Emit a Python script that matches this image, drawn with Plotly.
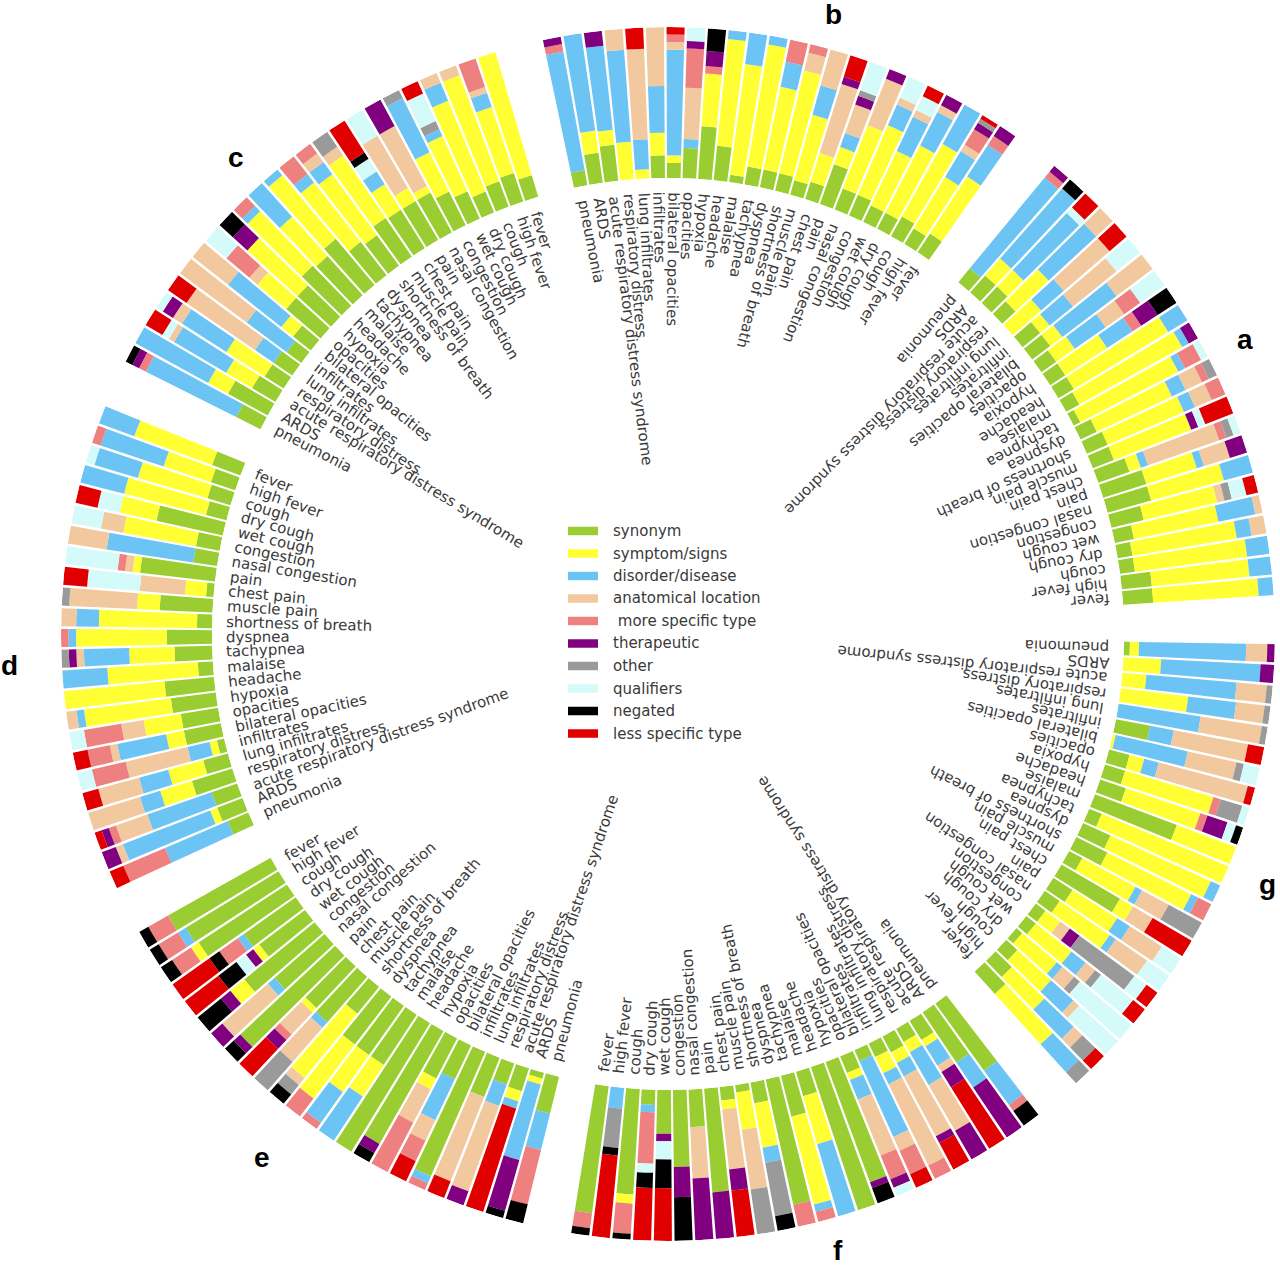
import math
import plotly.graph_objects as go

# ---------------- data ----------------
categories = ["synonym", "symptom/signs", "disorder/disease", "anatomical location",
              " more specific type", "therapeutic", "other", "qualifiers", "negated",
              "less specific type"]
colors = ["#9ACD32", "#FFFF33", "#6CC4F5", "#F2C89E", "#EE8080",
          "#800080", "#9A9A9A", "#D4FAFA", "#000000", "#E00000"]

terms = ["fever", "high fever", "cough", "dry cough", "wet cough", "congestion",
         "nasal congestion", "pain", "chest pain", "muscle pain", "shortness of breath",
         "dyspnea", "tachypnea", "malaise", "headache", "hypoxia", "opacities",
         "bilateral opacities", "infiltrates", "lung infiltrates", "respiratory distress",
         "acute respiratory distress syndrome", "ARDS", "pneumonia"]

# sectors listed clockwise from the top
sector_names = ["b", "a", "g", "f", "e", "d", "c"]

# each row: percentages per category (same order as `categories`), rows follow `terms`
sector_b = [
    (15, 45, 25, 0, 7, 8, 0, 0, 0, 0),
    (12, 40, 20, 5, 12, 5, 3, 0, 0, 3),
    (15, 55, 30, 0, 0, 0, 0, 0, 0, 0),
    (12, 50, 25, 5, 0, 8, 0, 0, 0, 0),
    (12, 40, 25, 5, 0, 0, 0, 10, 0, 8),
    (15, 50, 15, 5, 0, 0, 0, 15, 0, 0),
    (15, 45, 0, 33, 0, 7, 0, 0, 0, 0),
    (28, 12, 10, 20, 0, 6, 4, 20, 0, 0),
    (12, 20, 0, 48, 0, 5, 0, 0, 0, 15),
    (10, 45, 20, 25, 0, 0, 0, 0, 0, 0),
    (12, 70, 0, 12, 6, 0, 0, 0, 0, 0),
    (12, 56, 17, 0, 15, 0, 0, 0, 0, 0),
    (12, 82, 6, 0, 0, 0, 0, 0, 0, 0),
    (5, 74, 21, 0, 0, 0, 0, 0, 0, 0),
    (23, 71, 6, 0, 0, 0, 0, 0, 0, 0),
    (35, 35, 0, 0, 5, 10, 0, 0, 15, 0),
    (20, 0, 6, 34, 26, 5, 0, 9, 0, 0),
    (10, 5, 70, 5, 5, 0, 0, 0, 0, 5),
    (15, 15, 31, 39, 0, 0, 0, 0, 0, 0),
    (0, 6, 20, 60, 0, 0, 0, 0, 0, 14),
    (0, 25, 61, 14, 0, 0, 0, 0, 0, 0),
    (24, 10, 56, 0, 0, 10, 0, 0, 0, 0),
    (20, 15, 65, 0, 0, 0, 0, 0, 0, 0),
    (10, 0, 80, 0, 5, 5, 0, 0, 0, 0),
]

sector_a = [
    (20, 70, 10, 0, 0, 0, 0, 0, 0, 0),
    (20, 65, 15, 0, 0, 0, 0, 0, 0, 0),
    (10, 75, 15, 0, 0, 0, 0, 0, 0, 0),
    (10, 70, 10, 10, 0, 0, 0, 0, 0, 0),
    (13, 57, 25, 5, 0, 0, 0, 0, 0, 0),
    (22, 50, 0, 5, 0, 0, 5, 10, 0, 8),
    (30, 50, 20, 0, 0, 0, 0, 0, 0, 0),
    (30, 35, 5, 18, 0, 12, 0, 0, 0, 0),
    (22, 8, 5, 50, 5, 0, 5, 5, 0, 0),
    (15, 55, 0, 0, 0, 5, 0, 5, 0, 20),
    (15, 55, 8, 12, 10, 0, 0, 0, 0, 0),
    (12, 55, 10, 12, 5, 0, 6, 0, 0, 0),
    (5, 73, 5, 0, 12, 0, 0, 5, 0, 0),
    (10, 78, 5, 0, 0, 7, 0, 0, 0, 0),
    (12, 73, 15, 0, 0, 0, 0, 0, 0, 0),
    (12, 33, 20, 0, 7, 13, 0, 0, 15, 0),
    (12, 15, 25, 15, 13, 0, 0, 20, 0, 0),
    (15, 10, 45, 30, 0, 0, 0, 0, 0, 0),
    (15, 8, 20, 37, 0, 0, 0, 20, 0, 0),
    (0, 25, 20, 40, 0, 0, 0, 0, 0, 15),
    (12, 30, 43, 15, 0, 0, 0, 0, 0, 0),
    (15, 15, 52, 0, 0, 0, 0, 5, 0, 13),
    (15, 15, 62, 0, 0, 0, 0, 0, 8, 0),
    (12, 0, 78, 0, 5, 5, 0, 0, 0, 0),
]

sector_g = [
    (20, 45, 25, 0, 0, 0, 10, 0, 0, 0),
    (15, 30, 27, 8, 0, 0, 12, 0, 0, 8),
    (10, 30, 20, 5, 0, 0, 0, 35, 0, 0),
    (5, 30, 5, 10, 0, 0, 5, 45, 0, 0),
    (8, 30, 12, 8, 0, 0, 5, 27, 0, 10),
    (8, 12, 0, 8, 0, 8, 45, 10, 0, 9),
    (12, 40, 5, 25, 0, 0, 0, 18, 0, 0),
    (15, 35, 10, 25, 0, 0, 0, 15, 0, 0),
    (45, 10, 0, 15, 0, 0, 0, 0, 0, 30),
    (10, 40, 5, 20, 0, 0, 25, 0, 0, 0),
    (23, 62, 5, 0, 10, 0, 0, 0, 0, 0),
    (20, 73, 7, 0, 0, 0, 0, 0, 0, 0),
    (9, 91, 0, 0, 0, 0, 0, 0, 0, 0),
    (58, 42, 0, 0, 0, 0, 0, 0, 0, 0),
    (18, 52, 0, 0, 5, 14, 0, 6, 5, 0),
    (14, 61, 0, 0, 5, 0, 15, 5, 0, 0),
    (14, 10, 10, 61, 0, 0, 0, 0, 0, 5),
    (0, 2, 49, 33, 0, 0, 5, 11, 0, 0),
    (23, 0, 16, 50, 0, 0, 0, 0, 0, 11),
    (0, 0, 55, 41, 0, 0, 4, 0, 0, 0),
    (0, 45, 32, 19, 0, 0, 4, 0, 0, 0),
    (0, 16, 60, 20, 0, 0, 4, 0, 0, 0),
    (0, 25, 66, 0, 0, 9, 0, 0, 0, 0),
    (4, 6, 71, 14, 0, 5, 0, 0, 0, 0),
]

sector_f = [
    (85, 0, 0, 0, 10, 0, 0, 0, 5, 0),
    (0, 0, 14, 0, 0, 0, 26, 0, 5, 55),
    (70, 6, 0, 0, 20, 0, 0, 0, 4, 0),
    (10, 0, 5, 0, 34, 0, 0, 6, 10, 35),
    (29, 0, 0, 0, 0, 5, 0, 12, 19, 35),
    (51, 0, 0, 0, 0, 20, 0, 0, 29, 0),
    (25, 0, 0, 34, 0, 41, 0, 0, 0, 0),
    (69, 0, 0, 0, 0, 31, 0, 0, 0, 0),
    (9, 6, 0, 40, 0, 14, 0, 0, 0, 31),
    (5, 25, 0, 40, 0, 0, 30, 0, 0, 0),
    (14, 30, 10, 0, 0, 0, 36, 0, 10, 0),
    (85, 0, 0, 0, 15, 0, 0, 0, 0, 0),
    (28, 60, 5, 0, 7, 0, 0, 0, 0, 0),
    (17, 33, 50, 0, 0, 0, 0, 0, 0, 0),
    (100, 0, 0, 0, 0, 0, 0, 0, 0, 0),
    (85, 0, 0, 0, 0, 4, 0, 0, 11, 0),
    (12, 5, 14, 40, 17, 6, 0, 6, 0, 0),
    (8, 0, 55, 10, 17, 0, 0, 0, 0, 10),
    (10, 12, 8, 60, 10, 0, 0, 0, 0, 0),
    (12, 8, 10, 45, 0, 5, 0, 0, 0, 20),
    (10, 8, 25, 35, 0, 22, 0, 0, 0, 0),
    (15, 5, 15, 5, 0, 12, 0, 0, 0, 48),
    (40, 0, 20, 0, 0, 40, 0, 0, 0, 0),
    (55, 0, 28, 0, 5, 0, 0, 0, 12, 0),
]

sector_e = [
    (78, 0, 0, 0, 15, 0, 0, 0, 7, 0),
    (72, 0, 6, 0, 15, 0, 0, 0, 7, 0),
    (70, 6, 0, 0, 15, 0, 0, 0, 9, 0),
    (42, 0, 5, 0, 15, 0, 0, 0, 8, 30),
    (38, 5, 0, 0, 0, 6, 0, 8, 15, 28),
    (60, 12, 0, 0, 0, 8, 0, 0, 20, 0),
    (44, 0, 6, 40, 0, 10, 0, 0, 0, 0),
    (86, 0, 0, 0, 0, 6, 0, 0, 8, 0),
    (38, 4, 0, 20, 5, 8, 0, 0, 0, 25),
    (40, 0, 5, 30, 0, 0, 25, 0, 0, 0),
    (23, 55, 0, 6, 0, 0, 8, 0, 8, 0),
    (40, 45, 0, 0, 15, 0, 0, 0, 0, 0),
    (40, 30, 25, 0, 5, 0, 0, 0, 0, 0),
    (40, 25, 35, 0, 0, 0, 0, 0, 0, 0),
    (100, 0, 0, 0, 0, 0, 0, 0, 0, 0),
    (86, 0, 0, 0, 0, 7, 0, 0, 7, 0),
    (30, 8, 0, 25, 37, 0, 0, 0, 0, 0),
    (25, 0, 30, 15, 15, 0, 0, 0, 0, 15),
    (90, 0, 5, 0, 5, 0, 0, 0, 0, 0),
    (28, 0, 0, 60, 0, 0, 0, 0, 0, 12),
    (15, 0, 15, 60, 0, 10, 0, 0, 0, 0),
    (16, 7, 5, 0, 0, 0, 0, 0, 0, 72),
    (4, 4, 52, 0, 0, 35, 0, 0, 5, 0),
    (25, 0, 25, 0, 37, 0, 0, 0, 13, 0),
]

sector_d = [
    (20, 55, 25, 0, 0, 0, 0, 0, 0, 0),
    (17, 33, 44, 0, 6, 0, 0, 0, 0, 0),
    (16, 48, 30, 0, 0, 0, 0, 6, 0, 0),
    (14, 56, 30, 0, 0, 0, 0, 0, 0, 0),
    (45, 25, 0, 0, 0, 0, 0, 15, 0, 15),
    (16, 49, 0, 15, 0, 0, 0, 20, 0, 0),
    (16, 0, 58, 26, 0, 0, 0, 0, 0, 0),
    (50, 5, 0, 5, 5, 0, 0, 35, 0, 0),
    (5, 14, 0, 30, 0, 0, 0, 35, 0, 16),
    (35, 15, 0, 45, 0, 0, 5, 0, 0, 0),
    (10, 65, 15, 10, 0, 0, 0, 0, 0, 0),
    (30, 60, 5, 0, 5, 0, 0, 0, 0, 0),
    (25, 30, 30, 5, 0, 5, 5, 0, 0, 0),
    (10, 60, 30, 0, 0, 0, 0, 0, 0, 0),
    (33, 67, 0, 0, 0, 0, 0, 0, 0, 0),
    (30, 58, 5, 7, 0, 0, 0, 0, 0, 0),
    (25, 25, 0, 15, 25, 0, 0, 10, 0, 0),
    (25, 12, 33, 5, 15, 0, 0, 0, 0, 10),
    (5, 5, 15, 42, 23, 0, 0, 10, 0, 0),
    (17, 24, 20, 28, 0, 0, 0, 0, 0, 11),
    (28, 22, 14, 36, 0, 0, 0, 0, 0, 0),
    (18, 0, 45, 22, 5, 5, 0, 0, 0, 5),
    (18, 5, 62, 5, 0, 10, 0, 0, 0, 0),
    (15, 0, 45, 0, 30, 0, 0, 0, 0, 10),
]

sector_c = [
    (15, 85, 0, 0, 0, 0, 0, 0, 0, 0),
    (20, 46, 10, 4, 20, 0, 0, 0, 0, 0),
    (18, 75, 0, 7, 0, 0, 0, 0, 0, 0),
    (15, 65, 13, 7, 0, 0, 0, 0, 0, 0),
    (20, 40, 5, 0, 0, 0, 6, 20, 0, 9),
    (25, 29, 40, 0, 0, 0, 6, 0, 0, 0),
    (30, 5, 0, 45, 0, 20, 0, 0, 0, 0),
    (30, 10, 0, 40, 0, 0, 0, 20, 0, 0),
    (30, 20, 10, 0, 0, 0, 0, 10, 5, 25),
    (31, 50, 0, 7, 0, 0, 12, 0, 0, 0),
    (25, 50, 10, 7, 8, 0, 0, 0, 0, 0),
    (28, 50, 7, 0, 15, 0, 0, 0, 0, 0),
    (40, 55, 5, 0, 0, 0, 0, 0, 0, 0),
    (35, 35, 30, 0, 0, 0, 0, 0, 0, 0),
    (37, 50, 5, 0, 8, 0, 0, 0, 0, 0),
    (30, 45, 0, 0, 0, 13, 0, 0, 12, 0),
    (30, 25, 0, 7, 20, 0, 0, 18, 0, 0),
    (15, 10, 45, 30, 0, 0, 0, 0, 0, 0),
    (12, 0, 33, 55, 0, 0, 0, 0, 0, 0),
    (15, 0, 15, 55, 0, 0, 0, 0, 0, 15),
    (15, 30, 35, 7, 0, 8, 0, 5, 0, 0),
    (18, 20, 40, 4, 0, 0, 0, 5, 0, 13),
    (30, 15, 55, 0, 0, 0, 0, 0, 0, 0),
    (18, 0, 67, 0, 5, 5, 0, 0, 5, 0),
]

sectors = [sector_b, sector_a, sector_g, sector_f, sector_e, sector_d, sector_c]

# ---------------- geometry / style ----------------
W, H = 1280, 1265
CX, CY = 668, 634
R_OUT, R_IN = 607, 456
R_LABEL = 442
FIRST_CENTER = 11.5
SECTOR_STEP = 360.0 / 7
BAR_STEP = 1.96
BAR_WIDTH = 1.71
LABEL_FONT = 15
TEXT_COLOR = "#3a3a3a"

sector_label_angle = [15.0, 63.0, 112.7, 164.6, 217.8, 267.3, 317.8]
sector_label_radius = [641, 648, 650, 639, 662, 659, 643]

# DejaVu Sans advance widths (per 1000 em)
CW = {' ': 318, 'a': 613, 'b': 635, 'c': 550, 'd': 635, 'e': 615, 'f': 352, 'g': 635,
      'h': 634, 'i': 278, 'j': 278, 'k': 579, 'l': 278, 'm': 974, 'n': 634, 'o': 612,
      'p': 635, 'q': 635, 'r': 411, 's': 521, 't': 392, 'u': 634, 'v': 592, 'w': 818,
      'x': 592, 'y': 592, 'z': 525, 'A': 684, 'D': 770, 'R': 695, 'S': 635, '/': 337}


def text_width(s, size):
    return sum(CW.get(ch, 600) for ch in s) / 1000.0 * size


def bar_theta(k, j):
    return FIRST_CENTER + k * SECTOR_STEP + (11.5 - j) * BAR_STEP


def px_to_paper(x, y):
    return x / W, 1 - y / H


fig = go.Figure()

thetas = []
for k in range(len(sectors)):
    for j in range(len(terms)):
        thetas.append(bar_theta(k, j))

for ci, cat in enumerate(categories):
    r = []
    for sec in sectors:
        for row in sec:
            r.append(row[ci] / float(sum(row)))
    fig.add_trace(go.Barpolar(
        r=r, theta=thetas, width=BAR_WIDTH, name=cat,
        marker=dict(color=colors[ci], line=dict(width=0)),
        showlegend=False, hoverinfo="skip"))

annotations = []
# term labels, reading inwards from near the bar bases
for k in range(len(sectors)):
    for j, term in enumerate(terms):
        th = bar_theta(k, j)
        w = text_width(term, LABEL_FONT)
        rc = R_LABEL - w / 2.0
        x = CX + rc * math.sin(math.radians(th))
        y = CY - rc * math.cos(math.radians(th))
        px, py = px_to_paper(x, y)
        ang = ((th + 90 + 180) % 360) - 180
        annotations.append(dict(
            x=px, y=py, xref="paper", yref="paper", text=term, showarrow=False,
            textangle=ang, xanchor="center", yanchor="middle",
            font=dict(family="DejaVu Sans", size=LABEL_FONT, color=TEXT_COLOR)))

# sector letters
for k, name in enumerate(sector_names):
    th = sector_label_angle[k]
    rr = sector_label_radius[k]
    x = CX + rr * math.sin(math.radians(th))
    y = CY - rr * math.cos(math.radians(th))
    px, py = px_to_paper(x, y)
    annotations.append(dict(
        x=px, y=py, xref="paper", yref="paper", text="<b>%s</b>" % name,
        showarrow=False, xanchor="center", yanchor="middle",
        font=dict(family="Liberation Sans", size=28, color="#000000")))

# legend drawn in the middle
shapes = []
LEG_X0, LEG_X1, LEG_Y0, LEG_DY, LEG_H, LEG_TX = 568, 598, 531, 22.5, 8.5, 611
for i, cat in enumerate(categories):
    yc = LEG_Y0 + i * LEG_DY
    x0, y0 = px_to_paper(LEG_X0, yc - LEG_H / 2)
    x1, y1 = px_to_paper(LEG_X1, yc + LEG_H / 2)
    shapes.append(dict(type="rect", xref="paper", yref="paper", x0=x0, x1=x1,
                       y0=y1, y1=y0, fillcolor=colors[i], line=dict(width=0)))
    tx, ty = px_to_paper(LEG_TX, yc)
    label = cat.replace(" ", "&nbsp;", 1) if cat.startswith(" ") else cat
    annotations.append(dict(
        x=tx, y=ty, xref="paper", yref="paper", text=label,
        showarrow=False, xanchor="left", yanchor="middle",
        font=dict(family="DejaVu Sans", size=15, color=TEXT_COLOR)))

fig.update_layout(
    width=W, height=H,
    margin=dict(l=0, r=0, t=0, b=0),
    paper_bgcolor="white", plot_bgcolor="white",
    polar=dict(
        domain=dict(x=[(CX - R_OUT) / W, (CX + R_OUT) / W],
                    y=[1 - (CY + R_OUT) / H, 1 - (CY - R_OUT) / H]),
        hole=R_IN / R_OUT,
        bgcolor="rgba(0,0,0,0)",
        barmode="stack",
        bargap=0,
        radialaxis=dict(range=[0, 1], showgrid=False, showline=False,
                        showticklabels=False, ticks=""),
        angularaxis=dict(rotation=90, direction="clockwise", showgrid=False,
                         showline=False, showticklabels=False, ticks=""),
    ),
    annotations=annotations,
    shapes=shapes,
    showlegend=False,
)

fig.write_html("out.html", config={"displayModeBar": False},
               post_script="document.body.style.margin='0';document.body.style.overflow='hidden';")
